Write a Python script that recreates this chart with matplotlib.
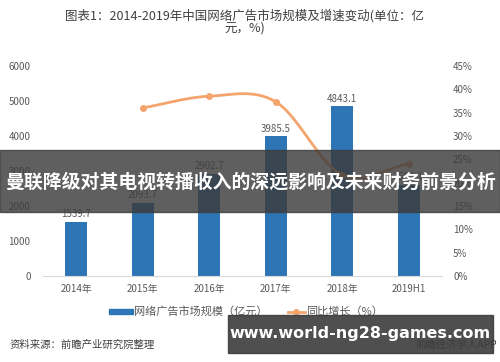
import numpy as np
import matplotlib
matplotlib.use("Agg")
import matplotlib.pyplot as plt
from matplotlib.patches import Rectangle
from matplotlib.lines import Line2D

plt.rcParams['font.family'] = ['Noto Sans CJK SC', 'DejaVu Sans']

years = ['2014年', '2015年', '2016年', '2017年', '2018年', '2019H1']
market = [1539.7, 2093.7, 2902.7, 3985.5, 4843.1, 2592.1]
growth = [np.nan, 36.0, 38.5, 37.3, 21.6, 24.0]

bar_color = '#2E75B6'
line_color = '#F4A56E'
tick_color = '#595959'


def catmull_rom(xs, ys, n=30):
    # smooth path through the points, like Excel's smoothed line
    px = np.concatenate([[2 * xs[0] - xs[1]], xs, [2 * xs[-1] - xs[-2]]])
    py = np.concatenate([[2 * ys[0] - ys[1]], ys, [2 * ys[-1] - ys[-2]]])
    out_x, out_y = [], []
    t = np.linspace(0, 1, n)
    for i in range(1, len(px) - 2):
        f = lambda a0, a1, a2, a3: 0.5 * ((2 * a1) + (-a0 + a2) * t
                                          + (2 * a0 - 5 * a1 + 4 * a2 - a3) * t ** 2
                                          + (-a0 + 3 * a1 - 3 * a2 + a3) * t ** 3)
        out_x.append(f(px[i - 1], px[i], px[i + 1], px[i + 2]))
        out_y.append(f(py[i - 1], py[i], py[i + 1], py[i + 2]))
    return np.concatenate(out_x), np.concatenate(out_y)


fig = plt.figure(figsize=(5, 3.62), dpi=100)
ax = fig.add_axes([0.086, 0.238, 0.798, 0.58])
ax2 = ax.twinx()

x = np.arange(len(years))
ax.bar(x, market, width=0.33, color=bar_color, zorder=2)
for xi, v in zip(x, market):
    ax.text(xi, v + 80, f"{v:.1f}", ha='center', va='bottom', fontsize=7, color=tick_color)

ax.set_ylim(0, 6000)
ax.set_yticks(np.arange(0, 6001, 1000))
ax.set_xlim(-0.5, len(years) - 0.5)
ax.set_xticks(x)
ax.set_xticklabels(years)

gx = x[1:].astype(float)
gy = np.array(growth[1:])
sx, sy = catmull_rom(gx, gy)
ax2.plot(sx, sy, color=line_color, lw=2, zorder=3)
ax2.plot(gx, gy, 'o', color=line_color, ms=4, zorder=3)
ax2.set_ylim(0, 45)
ax2.set_yticks(np.arange(0, 46, 5))
ax2.set_yticklabels([f"{v}%" for v in range(0, 46, 5)])

for a in (ax, ax2):
    for s in a.spines.values():
        s.set_visible(False)
    a.tick_params(length=0, labelsize=7, colors=tick_color)
ax.spines['bottom'].set_visible(True)
ax.spines['bottom'].set_color('#D9D9D9')
ax.tick_params(axis='x', pad=6)
ax.tick_params(axis='y', pad=9)
ax2.tick_params(axis='y', pad=8)

fig.text(0.49, 0.958, "图表1：2014-2019年中国网络广告市场规模及增速变动(单位：亿",
         ha='center', va='center', fontsize=9, color='#404040')
fig.text(0.49, 0.922, "元，%)", ha='center', va='center', fontsize=9, color='#404040')

# legend
fig.patches.append(Rectangle((0.218, 0.132), 0.048, 0.014, transform=fig.transFigure,
                             color=bar_color))
fig.text(0.268, 0.139, "网络广告市场规模（亿元）", va='center', fontsize=8, color=tick_color)
fig.lines.append(Line2D([0.575, 0.61], [0.139, 0.139], transform=fig.transFigure,
                        color=line_color, lw=2))
fig.lines.append(Line2D([0.5925], [0.139], transform=fig.transFigure, marker='o',
                        color=line_color, ms=4))
fig.text(0.612, 0.139, "同比增长（%）", va='center', fontsize=8, color=tick_color)

fig.text(0.02, 0.047, "资料来源：前瞻产业研究院整理", va='center', fontsize=7.5,
         color='#404040', style='italic')
fig.text(0.995, 0.047, "前瞻经济学人APP", va='center', ha='right', fontsize=7.5,
         color='#404040')

# overlay banners
fig.patches.append(Rectangle((0, 0.414), 1, 0.171, transform=fig.transFigure,
                             color='#3C3C3C', alpha=0.82, zorder=10))
fig.text(0.5, 0.497, "曼联降级对其电视转播收入的深远影响及未来财务前景分析", ha='center',
         va='center', fontsize=13.6, color='white', weight='bold', zorder=11)
fig.patches.append(Rectangle((0.455, 0.025), 0.53, 0.105, transform=fig.transFigure,
                             color='#3C3C3C', alpha=0.9, zorder=10))
fig.text(0.72, 0.078, "www.world-ng28-games.com", ha='center', va='center',
         fontsize=11.5, color='white', weight='bold', family='DejaVu Sans', zorder=11)

fig.savefig('out.png', dpi=100)
